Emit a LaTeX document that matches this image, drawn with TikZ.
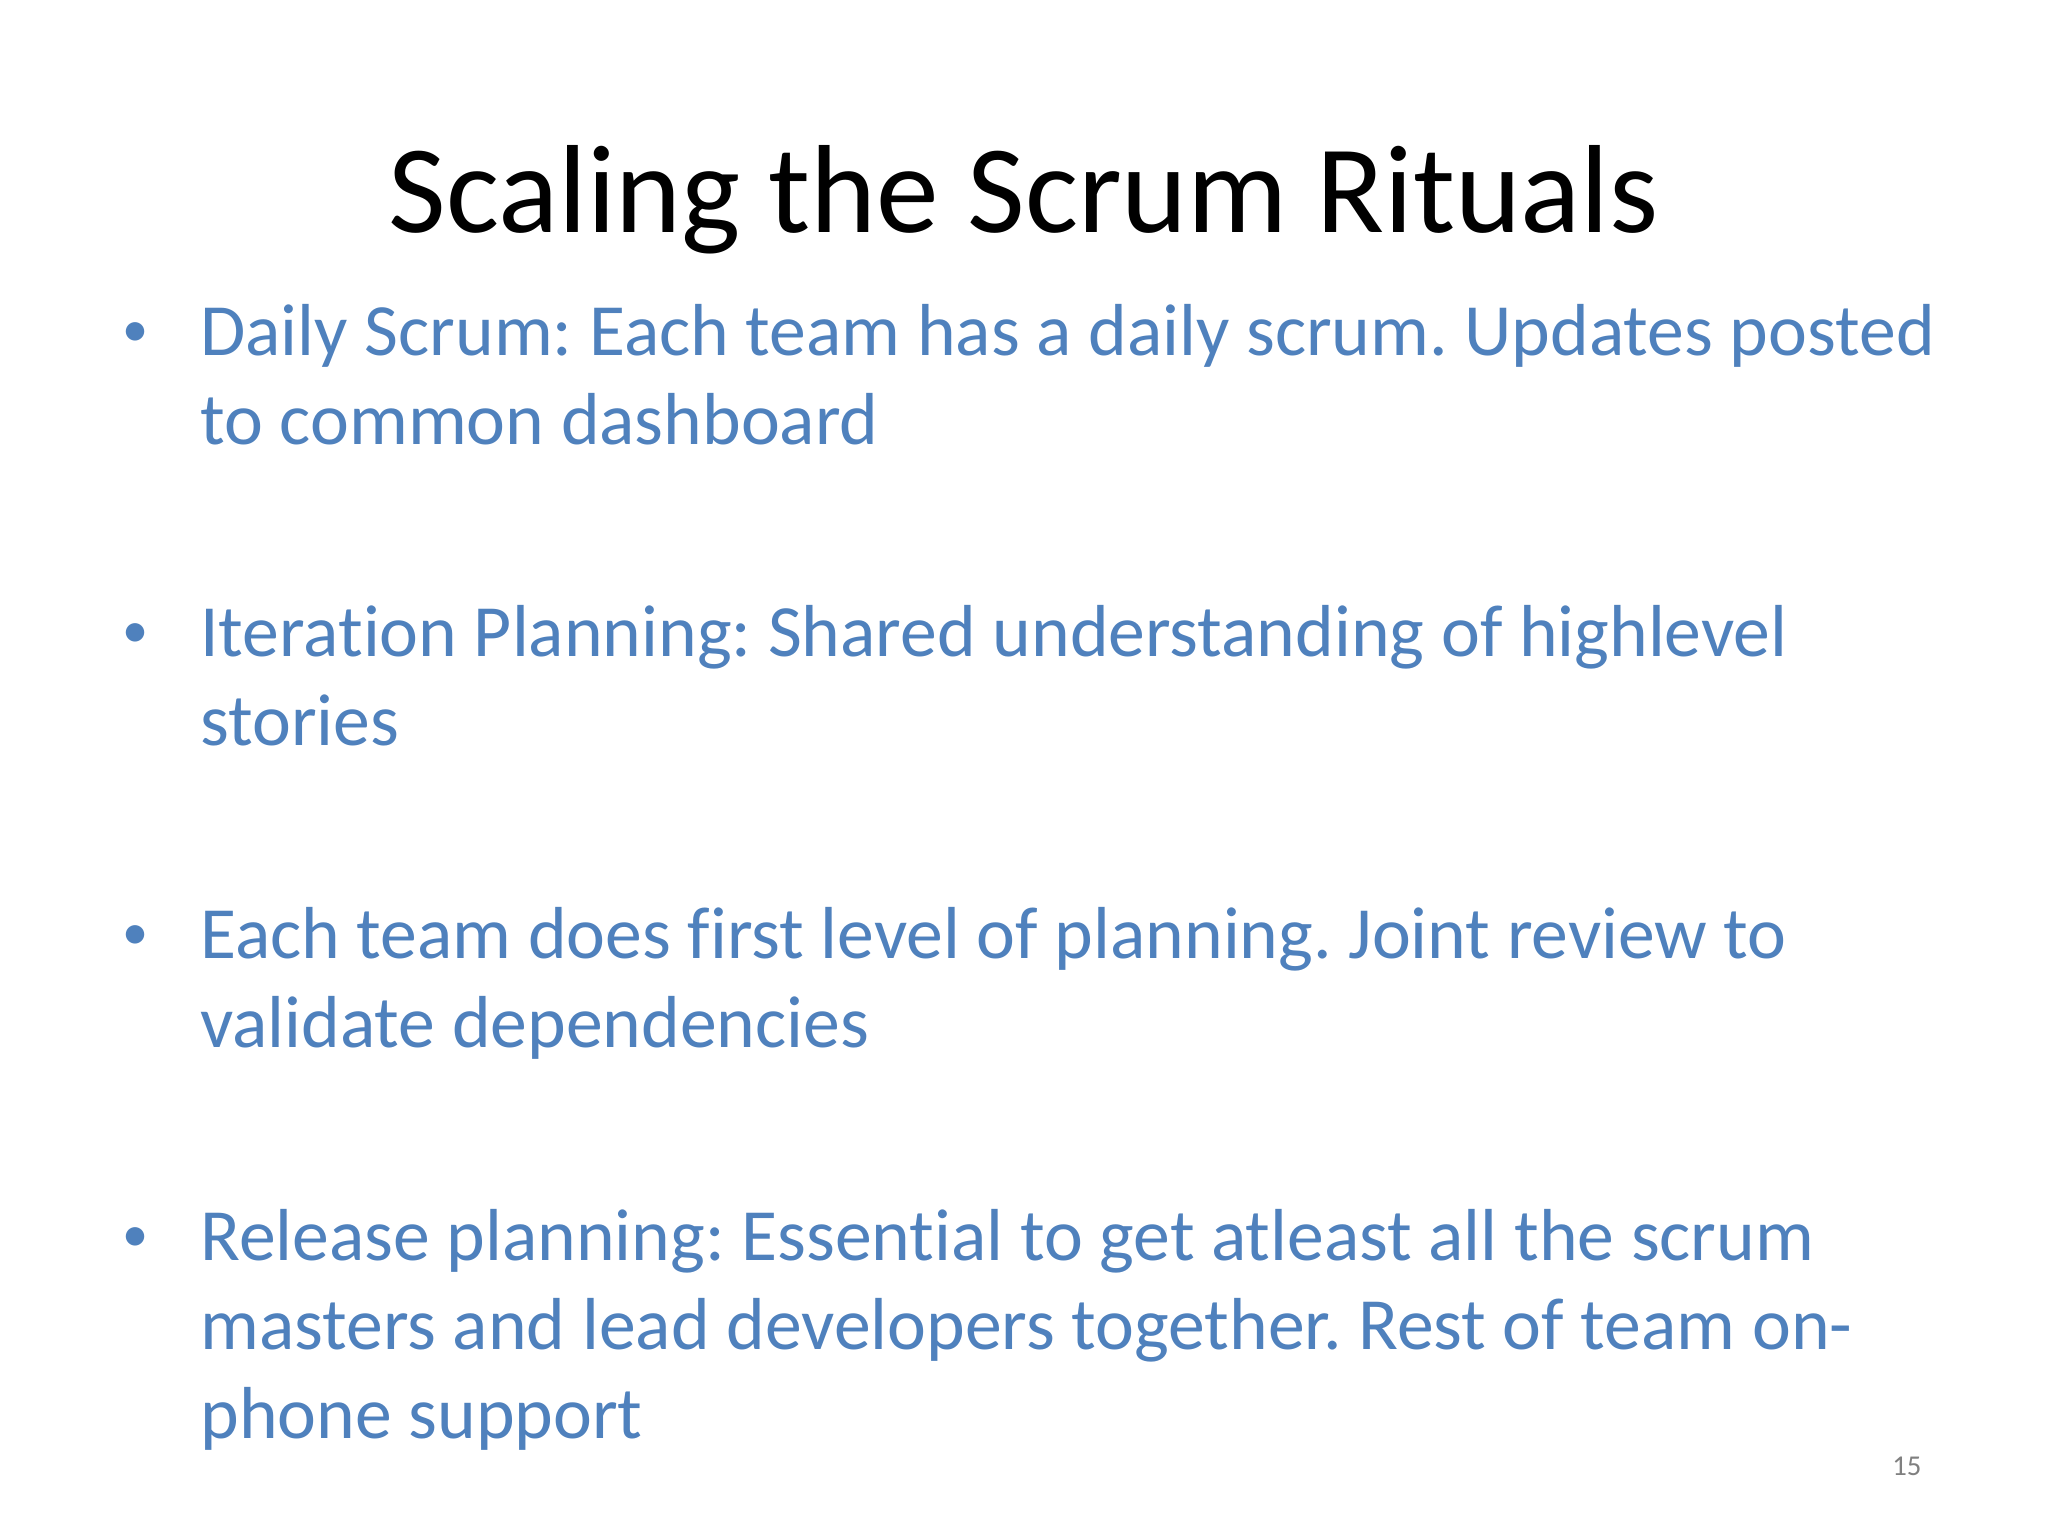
\documentclass[tikz,border=0pt]{standalone}
\usepackage{fontspec}
\setmainfont[Ligatures=NoCommon]{Carlito}
\frenchspacing
\definecolor{bt}{HTML}{4F81BD}
\begin{document}
\begin{tikzpicture}[x=0.5pt,y=-0.5pt,
  ln/.style={anchor=base west,inner sep=0pt,text=bt,font=\fontsize{28.2}{34}\selectfont},
  bul/.style={anchor=base,inner sep=0pt,text=bt,font=\fontsize{20}{24}\selectfont}]
\useasboundingbox[fill=white] (0,0) rectangle (1568,1176);
\node[anchor=base,inner sep=0pt,font=\fontsize{48}{58}\selectfont] (title) at (784,178) {Scaling the Scrum Rituals};
\node[bul] (b1) at (104,265) {•};
\node[ln] (l1a) at (153,272) {Daily Scrum: Each team has a daily scrum. Updates posted};
\node[ln] (l1b) at (153,340) {to common dashboard};
\node[bul] (b2) at (104,496) {•};
\node[ln] (l2a) at (153,503) {Iteration Planning: Shared understanding of highlevel};
\node[ln] (l2b) at (153,571) {stories};
\node[bul] (b3) at (104,727) {•};
\node[ln] (l3a) at (153,734) {Each team does first level of planning. Joint review to};
\node[ln] (l3b) at (153,802) {validate dependencies};
\node[bul] (b4) at (104,958) {•};
\node[ln] (l4a) at (153,965) {Release planning: Essential to get atleast all the scrum};
\node[ln] (l4b) at (153,1033) {masters and lead developers together. Rest of team on-};
\node[ln] (l4c) at (153,1101) {phone support};
\node[anchor=base,inner sep=0pt,text=gray,font=\fontsize{11}{13}\selectfont] (pg) at (1460,1130) {15};
\end{tikzpicture}
\end{document}
